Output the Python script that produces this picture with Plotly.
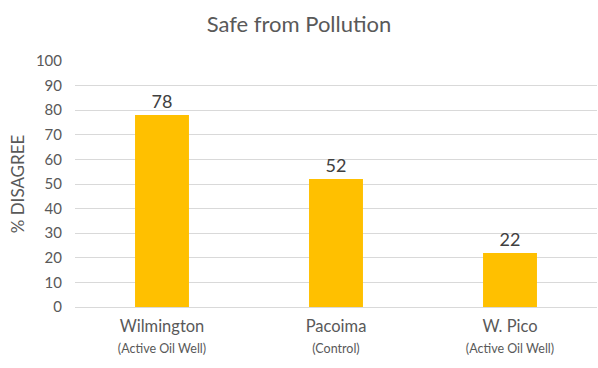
import plotly.graph_objects as go

categories = ["Wilmington", "Pacoima", "W. Pico"]
subtitles = ["(Active Oil Well)", "(Control)", "(Active Oil Well)"]
values = [78, 52, 22]
tick_vals = [0, 10, 20, 30, 40, 50, 60, 70, 80, 90, 100]

font_family = "Lato, 'Open Sans', sans-serif"
grey = "#595959"

ticktext = [f"{c}<br><span style='font-size:12.5px'>{s}</span>" for c, s in zip(categories, subtitles)]

fig = go.Figure(go.Bar(
    x=categories,
    y=values,
    marker=dict(color="#FFC000", line=dict(width=0)),
    width=0.31,
    text=[str(v) for v in values],
    textposition="outside",
    textfont=dict(size=18, color="#404040", family=font_family),
    cliponaxis=False,
))

fig.update_layout(
    width=598, height=368,
    margin=dict(l=75, r=1, t=61, b=61),
    paper_bgcolor="white", plot_bgcolor="white",
    title=dict(text="Safe from Pollution", x=0.5, xanchor="center", y=0.935, yanchor="middle",
               font=dict(size=22, color=grey, family=font_family)),
    showlegend=False,
    font=dict(family=font_family, color=grey),
)
fig.update_xaxes(
    tickvals=categories, ticktext=ticktext,
    tickfont=dict(size=16.5, color=grey),
    showgrid=False, showline=True, linecolor="#D9D9D9", linewidth=1,
    ticks="outside", ticklen=4, tickcolor="rgba(0,0,0,0)",
)
fig.update_yaxes(
    range=[0, 100], tickvals=tick_vals,
    tickfont=dict(size=15, color=grey),
    showgrid=True, gridcolor="#D9D9D9", gridwidth=1,
    zeroline=False, ticks="", ticklabelstandoff=12,
    title=dict(text="% DISAGREE", font=dict(size=17, color=grey), standoff=6),
)

fig.write_html("out.html")
